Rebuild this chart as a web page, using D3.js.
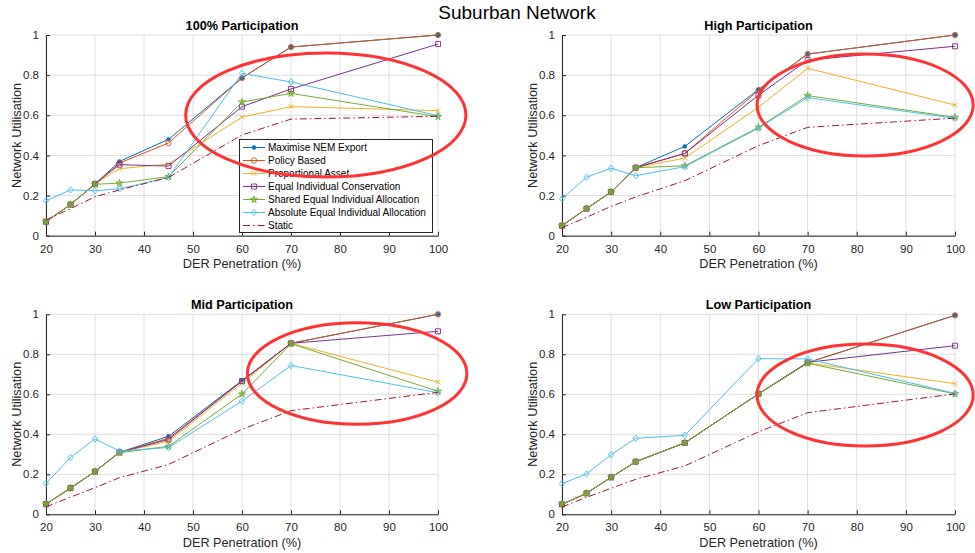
<!DOCTYPE html>
<html>
<head>
<meta charset="utf-8">
<script src="https://cdn.jsdelivr.net/npm/d3@7"></script>
<style>
  body { margin: 0; background: #fff; }
  svg { font-family: "Liberation Sans", Arial, Helvetica, sans-serif; }
</style>
</head>
<body>
<script>
// DER penetration levels (%) on the x axis
var penetration = [20, 25, 30, 35, 45, 60, 70, 100];
var xTicks = [20, 30, 40, 50, 60, 70, 80, 90, 100];
var yTicks = [0, 0.2, 0.4, 0.6, 0.8, 1];

var seriesNames = ["Maximise NEM Export", "Policy Based", "Proportional Asset",
    "Equal Individual Conservation", "Shared Equal Individual Allocation",
    "Absolute Equal Individual Allocation", "Static"];
var seriesColors = ["#0072BD", "#D95319", "#EDB120", "#7E2F8E", "#77AC30", "#4DBEEE", "#A2142F"];
var seriesMarkers = ["dot", "circle", "x", "square", "star", "diamond", "none"];

var panelTitles = ["100% Participation", "High Participation", "Mid Participation", "Low Participation"];

// one row per series, same order as seriesNames
var fullParticipation = [
    [0.07, 0.155, 0.258, 0.370, 0.480, 0.786, 0.940, 1.000],
    [0.07, 0.155, 0.258, 0.362, 0.462, 0.786, 0.940, 1.000],
    [0.07, 0.155, 0.258, 0.334, 0.357, 0.591, 0.643, 0.623],
    [0.07, 0.155, 0.258, 0.354, 0.347, 0.643, 0.731, 0.955],
    [0.07, 0.155, 0.256, 0.262, 0.294, 0.666, 0.709, 0.593],
    [0.174, 0.228, 0.224, 0.234, 0.290, 0.809, 0.766, 0.598],
    [0.078, 0.135, 0.194, 0.228, 0.290, 0.502, 0.581, 0.595]
];
var highParticipation = [
    [0.05, 0.135, 0.218, 0.339, 0.445, 0.729, 0.905, 1.000],
    [0.05, 0.135, 0.218, 0.339, 0.410, 0.724, 0.905, 1.000],
    [0.05, 0.135, 0.218, 0.339, 0.387, 0.640, 0.834, 0.651],
    [0.05, 0.135, 0.218, 0.339, 0.410, 0.700, 0.875, 0.944],
    [0.05, 0.135, 0.218, 0.339, 0.348, 0.540, 0.698, 0.590],
    [0.184, 0.292, 0.336, 0.299, 0.344, 0.536, 0.688, 0.585],
    [0.040, 0.092, 0.146, 0.193, 0.274, 0.449, 0.540, 0.586]
];
var midParticipation = [
    [0.051, 0.131, 0.214, 0.310, 0.390, 0.669, 0.855, 1.000],
    [0.051, 0.131, 0.214, 0.310, 0.380, 0.666, 0.855, 1.000],
    [0.051, 0.131, 0.214, 0.310, 0.365, 0.655, 0.855, 0.661],
    [0.051, 0.131, 0.214, 0.310, 0.374, 0.666, 0.855, 0.915],
    [0.051, 0.131, 0.214, 0.308, 0.340, 0.601, 0.853, 0.615],
    [0.154, 0.284, 0.377, 0.316, 0.334, 0.566, 0.744, 0.608],
    [0.037, 0.086, 0.133, 0.183, 0.249, 0.425, 0.518, 0.610]
];
var lowParticipation = [
    [0.05, 0.105, 0.185, 0.263, 0.357, 0.602, 0.758, 0.995],
    [0.05, 0.105, 0.185, 0.263, 0.357, 0.602, 0.758, 0.995],
    [0.05, 0.105, 0.185, 0.263, 0.357, 0.602, 0.757, 0.653],
    [0.05, 0.105, 0.185, 0.263, 0.357, 0.602, 0.760, 0.843],
    [0.05, 0.105, 0.185, 0.263, 0.357, 0.602, 0.755, 0.602],
    [0.153, 0.202, 0.298, 0.380, 0.395, 0.778, 0.777, 0.605],
    [0.037, 0.085, 0.130, 0.175, 0.242, 0.412, 0.508, 0.602]
];
var panelData = [fullParticipation, highParticipation, midParticipation, lowParticipation];

// red highlight ellipses, in data units: [centre x, centre y, radius x, radius y]
var highlights = [
    [77.1, 0.601, 28.6, 0.309],
    [81.7, 0.651, 22.0, 0.254],
    [83.5, 0.704, 22.4, 0.254],
    [81.7, 0.596, 22.0, 0.255]
];

var svgWidth = 975;
var svgHeight = 553;
var axisColor = "#262626";

// plot boxes [left, right, top, bottom]
var boxes = [
    [46, 438, 35, 235.7],
    [562, 955, 35, 235.7],
    [46, 438, 314.3, 514.3],
    [562, 955, 314.3, 514.3]
];

var svg = d3.select("body").append("svg")
    .attr("width", svgWidth)
    .attr("height", svgHeight);

svg.append("text")
    .attr("x", 517)
    .attr("y", 19)
    .attr("text-anchor", "middle")
    .attr("font-size", 19)
    .attr("fill", "#000")
    .text("Suburban Network");

function markerPath(type, s) {
    if (type == "x") return "M" + (-s) + "," + (-s) + "L" + s + "," + s + "M" + (-s) + "," + s + "L" + s + "," + (-s);
    if (type == "square") return "M" + (-s) + "," + (-s) + "h" + (2 * s) + "v" + (2 * s) + "h" + (-2 * s) + "Z";
    if (type == "diamond") return "M0," + (-s * 1.3) + "L" + (s * 1.1) + ",0L0," + (s * 1.3) + "L" + (-s * 1.1) + ",0Z";
    if (type == "star") return d3.symbol(d3.symbolStar, 16)();
    return null;
}

function drawMarker(g, type, color, cx, cy) {
    if (type == "none") return;
    if (type == "dot") {
        g.append("circle").attr("cx", cx).attr("cy", cy).attr("r", 2.2).attr("fill", color);
    } else if (type == "circle") {
        g.append("circle").attr("cx", cx).attr("cy", cy).attr("r", 2.7)
            .attr("fill", "none").attr("stroke", color).attr("stroke-width", 0.9);
    } else {
        g.append("path")
            .attr("d", markerPath(type, 2.5))
            .attr("transform", "translate(" + cx + "," + cy + ")")
            .attr("fill", type == "star" ? color : "none")
            .attr("fill-opacity", 0.6)
            .attr("stroke", color)
            .attr("stroke-width", 0.9);
    }
}

panelData.forEach(function(data, p) {
    var b = boxes[p];
    var xScale = d3.scaleLinear().domain([20, 100]).range([b[0], b[1]]);
    var yScale = d3.scaleLinear().domain([0, 1]).range([b[3], b[2]]);
    var g = svg.append("g");

    // grid
    g.append("g").selectAll("line").data(xTicks).join("line")
        .attr("x1", function(d) { return xScale(d); })
        .attr("x2", function(d) { return xScale(d); })
        .attr("y1", b[2]).attr("y2", b[3])
        .attr("stroke", "#dedede").attr("stroke-width", 1);
    g.append("g").selectAll("line").data(yTicks).join("line")
        .attr("y1", function(d) { return yScale(d); })
        .attr("y2", function(d) { return yScale(d); })
        .attr("x1", b[0]).attr("x2", b[1])
        .attr("stroke", "#dedede").attr("stroke-width", 1);

    // axes
    var xAxis = d3.axisBottom(xScale).tickValues(xTicks).tickSizeInner(-4).tickSizeOuter(0).tickPadding(9);
    var yAxis = d3.axisLeft(yScale).tickValues(yTicks).tickSizeInner(-4).tickSizeOuter(0)
        .tickPadding(7).tickFormat(d3.format("~g"));
    var gx = g.append("g").attr("transform", "translate(0," + b[3] + ")").call(xAxis);
    var gy = g.append("g").attr("transform", "translate(" + b[0] + ",0)").call(yAxis);
    [gx, gy].forEach(function(a) {
        a.selectAll("path").attr("stroke", axisColor).attr("stroke-width", 1);
        a.selectAll("line").attr("stroke", axisColor);
        a.selectAll("text").attr("fill", axisColor).attr("font-size", 11.5)
            .attr("font-family", "'Liberation Sans', Arial, sans-serif");
    });

    // labels
    var midX = (b[0] + b[1]) / 2;
    g.append("text")
        .attr("x", midX).attr("y", b[2] - 5)
        .attr("text-anchor", "middle")
        .attr("font-size", 12.7).attr("font-weight", "bold").attr("fill", "#000")
        .text(panelTitles[p]);
    g.append("text")
        .attr("x", midX).attr("y", b[3] + 32.5)
        .attr("text-anchor", "middle")
        .attr("font-size", 12.7).attr("fill", axisColor)
        .text("DER Penetration (%)");
    g.append("text")
        .attr("transform", "translate(" + (b[0] - 25) + "," + ((b[2] + b[3]) / 2) + ") rotate(-90)")
        .attr("text-anchor", "middle")
        .attr("font-size", 12.7).attr("fill", axisColor)
        .text("Network Utilisation");

    // series
    var line = d3.line()
        .x(function(d, i) { return xScale(penetration[i]); })
        .y(function(d) { return yScale(d); });
    data.forEach(function(vals, s) {
        var path = g.append("path")
            .attr("d", line(vals))
            .attr("fill", "none")
            .attr("stroke", seriesColors[s])
            .attr("stroke-width", 1);
        if (seriesMarkers[s] == "none") path.attr("stroke-dasharray", "7,3,1.5,3");
        vals.forEach(function(v, i) {
            drawMarker(g, seriesMarkers[s], seriesColors[s], xScale(penetration[i]), yScale(v));
        });
    });

    // legend only in the first panel
    if (p == 0) {
        var lg = g.append("g");
        lg.append("rect")
            .attr("x", 239.5).attr("y", 139.5)
            .attr("width", 193).attr("height", 93)
            .attr("fill", "#fff").attr("stroke", axisColor).attr("stroke-width", 1);
        seriesNames.forEach(function(name, s) {
            var ly = 147.5 + s * 13;
            var l = lg.append("line")
                .attr("x1", 243).attr("x2", 265).attr("y1", ly).attr("y2", ly)
                .attr("stroke", seriesColors[s]).attr("stroke-width", 1);
            if (seriesMarkers[s] == "none") l.attr("stroke-dasharray", "7,3,1.5,3");
            drawMarker(lg, seriesMarkers[s], seriesColors[s], 254, ly);
            lg.append("text")
                .attr("x", 268).attr("y", ly + 3.6)
                .attr("font-size", 10).attr("fill", "#000")
                .text(name);
        });
    }

    // red highlight ellipse
    var h = highlights[p];
    g.append("ellipse")
        .attr("cx", xScale(h[0]))
        .attr("cy", yScale(h[1]))
        .attr("rx", xScale(20 + h[2]) - xScale(20))
        .attr("ry", yScale(0) - yScale(h[3]))
        .attr("fill", "none")
        .attr("stroke", "#FF3333")
        .attr("stroke-width", 3);
});
</script>
</body>
</html>
